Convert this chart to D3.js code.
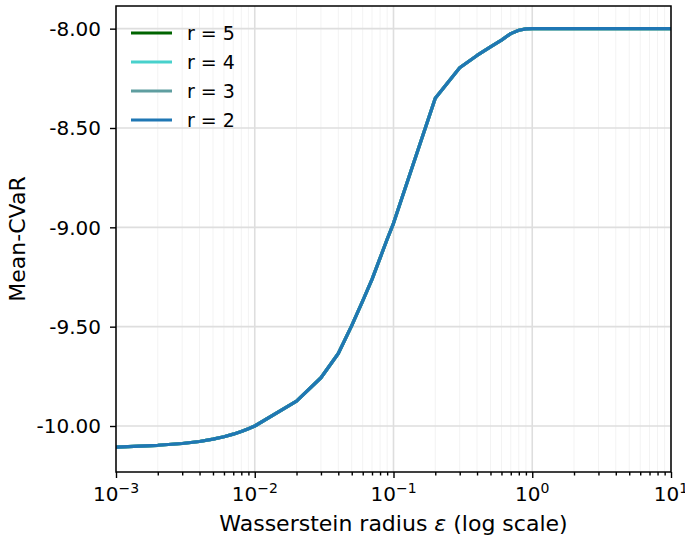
<!DOCTYPE html>
<html>

<head>
    <meta charset="utf-8">
    <script src="https://d3js.org/d3.v7.min.js"></script>
    <title>Mean-CVaR vs Wasserstein radius</title>
    <style>
        body {
            margin: 0px;
            background: #fff;
        }

        text {
            font-family: "DejaVu Sans", sans-serif;
            fill: #000;
        }

        .tick-label {
            font-size: 20px;
        }

        .legend-label {
            font-size: 19px;
        }

        .axis-label {
            font-size: 22px;
        }
    </style>
</head>

<body>
    <svg width="685" height="541"></svg>
    <script>
        //  Radii on the x axis (log scale).
        const epsilons = [
            0.001, 0.002, 0.003, 0.004, 0.005, 0.006, 0.007, 0.008, 0.009,
            0.01, 0.02, 0.03, 0.04, 0.05, 0.06, 0.07, 0.08, 0.09,
            0.1, 0.2, 0.3, 0.4, 0.5, 0.6, 0.7, 0.8, 0.9,
            1, 2, 3, 4, 5, 6, 7, 8, 9, 10
        ];

        //  Mean-CVaR; all four r give the same curve.
        const meanCvar = [
            -10.106, -10.097, -10.088, -10.078, -10.066, -10.054, -10.041, -10.028, -10.014,
            -10.000, -9.875, -9.757, -9.635, -9.495, -9.370, -9.262, -9.155, -9.060,
            -8.980, -8.350, -8.197, -8.135, -8.092, -8.058, -8.025, -8.008, -8.001,
            -8.000, -8.000, -8.000, -8.000, -8.000, -8.000, -8.000, -8.000, -8.000, -8.000
        ];

        const radii = [5, 4, 3, 2];
        const seriesValues = [meanCvar, meanCvar, meanCvar, meanCvar];
        const seriesColors = ['#006400', '#48d1cc', '#5f9ea0', '#1f77b4'];

        const xTickValues = [1e-3, 1e-2, 1e-1, 1, 10];
        const xTickExponents = ['\u22123', '\u22122', '\u22121', '0', '1'];
        const yTickValues = [-8.0, -8.5, -9.0, -9.5, -10.0];
        const xDomain = [1e-3, 10];
        const yDomain = [-10.2315, -7.886];

        const xLabel = 'Wasserstein radius ';
        const yLabel = 'Mean-CVaR';

        const margin = {
            left: 116,
            right: 14,
            top: 6,
            bottom: 69
        };

        const svg = d3.select('svg');
        const width = +svg.attr('width');
        const height = +svg.attr('height');
        const innerWidth = width - margin.left - margin.right;
        const innerHeight = height - margin.top - margin.bottom;

        const g = svg.append('g')
            .attr('transform', `translate(${margin.left},${margin.top})`);

        const xScale = d3.scaleLog()
            .domain(xDomain)
            .range([0, innerWidth]);
        const yScale = d3.scaleLinear()
            .domain(yDomain)
            .range([innerHeight, 0]);

        //  Minor log ticks: 2..9 in every decade.
        const minorTicks = xScale.ticks().filter(t => xTickValues.indexOf(t) < 0);

        //  Grid, minor first so the major lines sit on top.
        g.append('g').selectAll('line')
            .data(minorTicks)
            .enter().append('line')
            .attr('x1', d => xScale(d))
            .attr('x2', d => xScale(d))
            .attr('y1', 0)
            .attr('y2', innerHeight)
            .attr('stroke', '#f3f3f3')
            .attr('stroke-width', 1);

        g.append('g').selectAll('line')
            .data(xTickValues)
            .enter().append('line')
            .attr('x1', d => xScale(d))
            .attr('x2', d => xScale(d))
            .attr('y1', 0)
            .attr('y2', innerHeight)
            .attr('stroke', '#dedede')
            .attr('stroke-width', 1.6);

        g.append('g').selectAll('line')
            .data(yTickValues)
            .enter().append('line')
            .attr('x1', 0)
            .attr('x2', innerWidth)
            .attr('y1', d => yScale(d))
            .attr('y2', d => yScale(d))
            .attr('stroke', '#dedede')
            .attr('stroke-width', 1.6);

        //  Curves, r = 5 first so r = 2 ends up on top.
        const line = d3.line()
            .x((d, i) => xScale(epsilons[i]))
            .y(d => yScale(d));

        radii.forEach((r, k) => {
            g.append('path')
                .datum(seriesValues[k])
                .attr('fill', 'none')
                .attr('stroke', seriesColors[k])
                .attr('stroke-width', 3.2)
                .attr('stroke-linejoin', 'round')
                .attr('d', line);
        });

        //  Axes (ticks drawn by d3, labels added by hand for the superscripts).
        const xAxisG = g.append('g')
            .attr('transform', `translate(0,${innerHeight})`)
            .call(d3.axisBottom(xScale).tickValues(xTickValues).tickSize(6).tickFormat(''));
        const xMinorG = g.append('g')
            .attr('transform', `translate(0,${innerHeight})`)
            .call(d3.axisBottom(xScale).tickValues(minorTicks).tickSize(3.5).tickFormat(''));
        const yAxisG = g.append('g')
            .call(d3.axisLeft(yScale).tickValues(yTickValues).tickSize(6).tickFormat(''));

        [xAxisG, xMinorG, yAxisG].forEach(a => {
            a.select('.domain').remove();
            a.selectAll('.tick line').attr('stroke', '#000').attr('stroke-width', 1.4);
        });

        //  Spines.
        g.append('rect')
            .attr('width', innerWidth)
            .attr('height', innerHeight)
            .attr('fill', 'none')
            .attr('stroke', '#000')
            .attr('stroke-width', 1.5);

        //  x tick labels 10^n.
        const xLabels = g.append('g').selectAll('text')
            .data(xTickValues)
            .enter().append('text')
            .attr('class', 'tick-label')
            .attr('x', d => xScale(d))
            .attr('y', innerHeight + 29)
            .attr('text-anchor', 'middle');
        xLabels.append('tspan').text('10');
        xLabels.append('tspan')
            .attr('dy', -8)
            .style('font-size', '14px')
            .text((d, i) => xTickExponents[i]);

        //  y tick labels.
        g.append('g').selectAll('text')
            .data(yTickValues)
            .enter().append('text')
            .attr('class', 'tick-label')
            .attr('x', -15)
            .attr('y', d => yScale(d))
            .attr('dy', '0.36em')
            .attr('text-anchor', 'end')
            .text(d => d.toFixed(2));

        //  Axis titles.
        const xTitle = svg.append('text')
            .attr('class', 'axis-label')
            .attr('x', margin.left + innerWidth / 2)
            .attr('y', 531)
            .attr('text-anchor', 'middle');
        xTitle.append('tspan').text(xLabel);
        xTitle.append('tspan').style('font-style', 'italic').text('\u03b5');
        xTitle.append('tspan').text(' (log scale)');

        svg.append('text')
            .attr('class', 'axis-label')
            .attr('transform', `translate(25,${margin.top + innerHeight / 2}) rotate(-90)`)
            .attr('text-anchor', 'middle')
            .text(yLabel);

        //  Legend, no frame.
        const legend = g.append('g')
            .attr('transform', 'translate(15,27)');
        const legendItems = legend.selectAll('g')
            .data(radii)
            .enter().append('g')
            .attr('transform', (d, i) => `translate(0,${i * 29})`);
        legendItems.append('line')
            .attr('x1', 0)
            .attr('x2', 41)
            .attr('stroke', (d, i) => seriesColors[i])
            .attr('stroke-width', 3.2);
        legendItems.append('text')
            .attr('class', 'legend-label')
            .attr('x', 56)
            .attr('dy', '0.36em')
            .text(d => `r = ${d}`);
    </script>
</body>

</html>
